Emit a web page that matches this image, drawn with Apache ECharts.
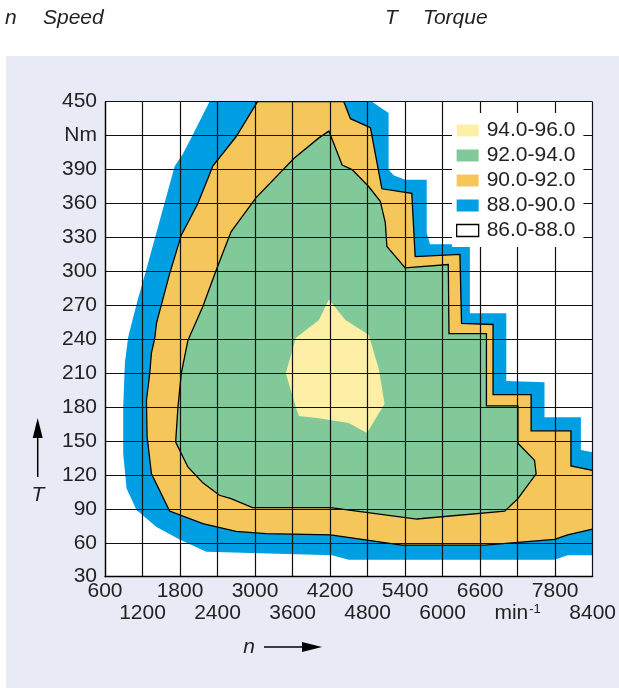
<!DOCTYPE html>
<html>
<head>
<meta charset="utf-8">
<title>Efficiency map</title>
<script src="https://cdn.jsdelivr.net/npm/echarts@6/dist/echarts.min.js"></script>
<style>
  html, body { margin: 0; padding: 0; background: #fff; }
  #chart { width: 619px; height: 688px; }
</style>
</head>
<body>
<div id="chart"></div>
<script>
// axis ticks
const speedTicks = [600, 1200, 1800, 2400, 3000, 3600, 4200, 4800, 5400, 6000, 6600, 7200, 7800, 8400];
const torqueTicks = [30, 60, 90, 120, 150, 180, 210, 240, 270, 300, 330, 360, 390, 420, 450];

// efficiency bands, outer boundary of each band as [speed min-1, torque Nm]
const bandNames = ['94.0-96.0', '92.0-94.0', '90.0-92.0', '88.0-90.0', '86.0-88.0'];
const bandColors = ['#fdf0a6', '#82c99a', '#f5c65a', '#009fe3', '#ffffff'];

const band86 = [[600, 30], [8400, 30], [8400, 450], [600, 450]];

const band88 = [
  [2271, 450], [2006, 421], [1847, 404], [1714, 393], [1253, 300], [1114, 273],
  [971, 242], [918, 219], [891, 180], [891, 139], [945, 108], [1104, 89],
  [1423, 74], [1794, 63], [2219, 52], [4233, 49], [4499, 45], [7789, 45],
  [8001, 49], [8600, 49], [8600, 140], [8398, 140], [8212, 142], [8212, 171],
  [7630, 171], [7630, 202], [7019, 203], [7019, 263], [6436, 263], [6436, 324],
  [5799, 324], [5746, 334], [5746, 381], [5401, 381], [5215, 385], [5136, 390],
  [5136, 440], [4870, 450]
];

const band90 = [
  [3040, 450], [2696, 419], [2324, 393], [2085, 360], [1821, 332], [1634, 298],
  [1423, 254], [1396, 241], [1343, 228], [1316, 210], [1263, 186], [1273, 154],
  [1343, 121], [1634, 88], [2165, 77], [2696, 70], [3174, 68], [4208, 67],
  [5348, 58], [6675, 58], [7789, 63], [8001, 67], [8398, 72], [8600, 72],
  [8600, 124], [8398, 124], [8053, 128], [8053, 159], [7416, 159], [7416, 191],
  [6807, 191], [6807, 253], [6303, 254], [6277, 315], [5561, 313], [5507, 369],
  [5029, 373], [4845, 427], [4526, 435], [4420, 450]
];

const band92 = [
  [4181, 424], [4393, 394], [4552, 390], [4817, 375], [5003, 362], [5083, 343],
  [5109, 322], [5401, 303], [6091, 306], [6102, 245], [6701, 245], [6701, 181],
  [7205, 181], [7205, 148], [7470, 133], [7496, 121], [7205, 99], [6993, 88],
  [5587, 81], [4208, 91], [2960, 91], [2616, 99], [2430, 102], [2165, 113],
  [1926, 127], [1730, 149], [1767, 180], [1821, 210], [1926, 239], [2165, 269],
  [2378, 301], [2616, 335], [3014, 365], [3624, 400], [4022, 418]
];

const band94 = [
  [4181, 275], [4446, 257], [4817, 244], [4977, 214], [5072, 183], [4791, 157],
  [4499, 166], [4022, 170], [3703, 172], [3651, 180], [3492, 210], [3651, 241],
  [4022, 257]
];

const font = '"Liberation Sans", Arial, sans-serif';
const ink = '#222';

function bandSeries(name, color, points, outline) {
  return {
    type: 'custom',
    name: name,
    clip: true,
    itemStyle: { color: color },
    data: points,
    renderItem: (params, api) => {
      if (params.dataIndex !== 0) {
        return null;
      }
      const pts = points.map(p => api.coord(p));
      return {
        type: 'polygon',
        shape: { points: pts },
        style: {
          fill: color,
          stroke: outline ? '#000' : null,
          lineWidth: outline ? 1.3 : 0
        }
      };
    }
  };
}

// two rows of speed labels: even ticks on the first row, odd ticks on the second
function speedAxis(row) {
  return {
    type: 'value',
    position: 'bottom',
    min: speedTicks[0],
    max: speedTicks[speedTicks.length - 1],
    interval: 600,
    offset: row === 0 ? 0 : 22,
    z: 5,
    axisLine: { show: row === 0, onZero: false, lineStyle: { color: '#000', width: 1.3 } },
    axisTick: { show: false },
    splitLine: { show: row === 0, lineStyle: { color: '#111', width: 1.2 } },
    axisLabel: {
      show: true,
      margin: 4,
      showMinLabel: true,
      showMaxLabel: true,
      fontFamily: font,
      fontSize: 21,
      lineHeight: 22,
      color: ink,
      formatter: (value) => {
        const i = speedTicks.indexOf(value);
        if (i < 0 || i % 2 !== row) return '';
        if (value === 7200) {
          return '{u|min}{s|-1}';
        }
        return '{a|' + value + '}';
      },
      rich: {
        a: { fontFamily: font, fontSize: 21, lineHeight: 22, color: ink },
        u: { fontFamily: font, fontSize: 21, lineHeight: 22, color: ink },
        s: { fontFamily: font, fontSize: 13, lineHeight: 22, color: ink, verticalAlign: 'top', padding: [0, 0, 10, 1] }
      }
    }
  };
}

const chart = echarts.init(document.getElementById('chart'), null, { renderer: 'canvas' });

const option = {
  animation: false,
  backgroundColor: '#fff',
  textStyle: { fontFamily: font },
  grid: {
    left: 105,
    right: 24,
    top: 101.7,
    bottom: 111.3,
    containLabel: false
  },
  legend: {
    left: 452,
    top: 113,
    orient: 'vertical',
    z: 10,
    backgroundColor: '#fff',
    padding: [7, 8, 6, 4],
    itemWidth: 22,
    itemHeight: 12,
    itemGap: 4,
    selectedMode: false,
    icon: 'rect',
    textStyle: {
      fontFamily: font,
      fontSize: 21,
      lineHeight: 21,
      color: ink,
      padding: [0, 0, 0, 3]
    },
    data: bandNames.map((n, i) => ({
      name: n,
      itemStyle: i === 4 ? { color: '#fff', borderColor: '#000', borderWidth: 1.3 } : { color: bandColors[i] }
    }))
  },
  xAxis: [speedAxis(0), speedAxis(1)],
  yAxis: {
    type: 'value',
    min: torqueTicks[0],
    max: torqueTicks[torqueTicks.length - 1],
    interval: 30,
    z: 5,
    axisLine: { show: true, onZero: false, lineStyle: { color: '#000', width: 1.3 } },
    axisTick: { show: false },
    splitLine: { show: true, lineStyle: { color: '#111', width: 1.2 } },
    axisLabel: {
      margin: 8,
      showMinLabel: true,
      showMaxLabel: true,
      fontFamily: font,
      fontSize: 21,
      color: ink,
      formatter: (value) => (value === 420 ? 'Nm' : String(value))
    }
  },
  graphic: [
    {
      type: 'rect',
      z: -10,
      shape: { x: 6, y: 56, width: 613, height: 632 },
      style: { fill: '#e8ebf5' }
    },
    {
      type: 'text', x: 5, y: 18,
      style: { text: 'n', font: 'italic 21px ' + font, fill: ink, verticalAlign: 'middle' }
    },
    {
      type: 'text', x: 43, y: 18,
      style: { text: 'Speed', font: 'italic 21px ' + font, fill: ink, verticalAlign: 'middle' }
    },
    {
      type: 'text', x: 385, y: 18,
      style: { text: 'T', font: 'italic 21px ' + font, fill: ink, verticalAlign: 'middle' }
    },
    {
      type: 'text', x: 423, y: 18,
      style: { text: 'Torque', font: 'italic 21px ' + font, fill: ink, verticalAlign: 'middle' }
    },
    // T arrow
    {
      type: 'line',
      shape: { x1: 37.7, y1: 477, x2: 37.7, y2: 436 },
      style: { stroke: '#000', lineWidth: 1.5 }
    },
    {
      type: 'polygon',
      shape: { points: [[37.7, 418], [32.7, 438], [42.7, 438]] },
      style: { fill: '#000' }
    },
    {
      type: 'text', x: 38, y: 495,
      style: { text: 'T', font: 'italic 21px ' + font, fill: ink, align: 'center', verticalAlign: 'middle' }
    },
    // n arrow
    {
      type: 'text', x: 249, y: 647,
      style: { text: 'n', font: 'italic 21px ' + font, fill: ink, align: 'center', verticalAlign: 'middle' }
    },
    {
      type: 'line',
      shape: { x1: 264, y1: 647, x2: 304, y2: 647 },
      style: { stroke: '#000', lineWidth: 1.5 }
    },
    {
      type: 'polygon',
      shape: { points: [[322, 647], [302, 642], [302, 652]] },
      style: { fill: '#000' }
    }
  ],
  series: [
    bandSeries(bandNames[4], bandColors[4], band86, false),
    bandSeries(bandNames[3], bandColors[3], band88, false),
    bandSeries(bandNames[2], bandColors[2], band90, true),
    bandSeries(bandNames[1], bandColors[1], band92, true),
    bandSeries(bandNames[0], bandColors[0], band94, false)
  ]
};

chart.setOption(option);
</script>
</body>
</html>
